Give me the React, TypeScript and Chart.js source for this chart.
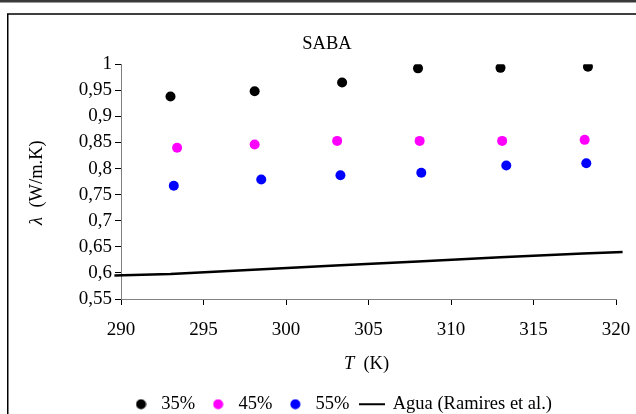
import React, { useEffect, useRef } from 'react';
import { Chart, registerables } from 'chart.js';

Chart.register(...registerables);

// ---- data ----
const seriesNames = ['35%', '45%', '55%', 'Agua (Ramires et al.)'];
const seriesColors = ['#000000', '#FF00FF', '#0000FF', '#000000'];

const temps35 = [293.0, 298.1, 303.4, 308.0, 313.0, 318.3];
const lambda35 = [0.938, 0.948, 0.965, 0.992, 0.993, 0.995];

const temps45 = [293.4, 298.1, 303.1, 308.1, 313.1, 318.1];
const lambda45 = [0.840, 0.846, 0.853, 0.853, 0.853, 0.855];

const temps55 = [293.2, 298.5, 303.3, 308.2, 313.35, 318.2];
const lambda55 = [0.767, 0.779, 0.787, 0.792, 0.806, 0.810];

const tempsAgua = [289.6, 293, 298, 303, 308, 313, 318, 320.4];
const lambdaAgua = [0.595, 0.598, 0.606, 0.614, 0.622, 0.630, 0.637, 0.640];

const xMin = 290;
const xMax = 320;
const xStep = 5;
const yMin = 0.55;
const yMax = 1;
const yStep = 0.05;

const chartTitle = 'SABA';
const xTitleItalic = 'T';
const xTitleRest = '  (K)';
const yTitleItalic = 'λ';
const yTitleRest = '  (W/m.K)';

const FONT = '"Liberation Serif", "Times New Roman", serif';

const toPoints = (xs: number[], ys: number[]) => xs.map((x, i) => ({ x, y: ys[i] }));

export default function App() {
  const ref = useRef<HTMLCanvasElement>(null);

  useEffect(() => {
    const canvas = ref.current;
    if (!canvas) return;

    const makeDot = (color: string) => {
      const c = document.createElement('canvas');
      c.width = 11;
      c.height = 11;
      const g = c.getContext('2d')!;
      g.fillStyle = color;
      g.beginPath();
      g.arc(5.5, 5.5, 5, 0, Math.PI * 2);
      g.fill();
      return c;
    };
    const makeLine = (color: string) => {
      const c = document.createElement('canvas');
      c.width = 26;
      c.height = 4;
      const g = c.getContext('2d')!;
      g.fillStyle = color;
      g.fillRect(0, 1, 26, 2);
      return c;
    };
    const legendImages = [
      makeDot(seriesColors[0]),
      makeDot(seriesColors[1]),
      makeDot(seriesColors[2]),
      makeLine(seriesColors[3]),
    ];

    const decor = {
      id: 'decor',
      beforeDraw(chart: any) {
        const { ctx, width, height } = chart;
        ctx.save();
        ctx.fillStyle = '#ffffff';
        ctx.fillRect(0, 0, width, height);
        ctx.fillStyle = '#3a3a3a';
        ctx.fillRect(0, 0, width, 2.5);
        ctx.strokeStyle = '#000000';
        ctx.lineWidth = 1.5;
        ctx.beginPath();
        ctx.moveTo(7.75, height);
        ctx.lineTo(7.75, 14);
        ctx.lineTo(width, 14);
        ctx.stroke();
        ctx.restore();
      },
      afterLayout(chart: any) {
        if (chart.titleBlock) {
          chart.titleBlock.left += 15;
          chart.titleBlock.right += 15;
        }
        if (chart.legend) {
          chart.legend.left += 29;
          chart.legend.right += 29;
        }
      },
      afterDraw(chart: any) {
        const { ctx, chartArea } = chart;
        ctx.save();
        ctx.fillStyle = '#000000';
        ctx.textBaseline = 'middle';
        ctx.textAlign = 'left';
        const fN = `18.5px ${FONT}`;
        const fI = `italic 18.5px ${FONT}`;
        // x title
        ctx.font = fI;
        const wT = ctx.measureText(xTitleItalic).width;
        ctx.font = fN;
        const wR = ctx.measureText(xTitleRest).width;
        const cx = (chartArea.left + chartArea.right) / 2 - 2;
        const x0 = cx - (wT + wR) / 2;
        const xy = 364;
        ctx.font = fI;
        ctx.fillText(xTitleItalic, x0, xy);
        ctx.font = fN;
        ctx.fillText(xTitleRest, x0 + wT, xy);
        // y title
        ctx.translate(37, (chartArea.top + chartArea.bottom) / 2 + 1);
        ctx.rotate(-Math.PI / 2);
        ctx.font = fI;
        const wL = ctx.measureText(yTitleItalic).width;
        ctx.font = fN;
        const wY = ctx.measureText(yTitleRest).width;
        const y0 = -(wL + wY) / 2;
        ctx.font = fI;
        ctx.fillText(yTitleItalic, y0, 0);
        ctx.font = fN;
        ctx.fillText(yTitleRest, y0 + wL, 0);
        ctx.restore();
      },
    };

    const chart = new Chart(canvas, {
      type: 'scatter',
      data: {
        datasets: [
          {
            label: seriesNames[0],
            data: toPoints(temps35, lambda35),
            backgroundColor: seriesColors[0],
            borderColor: seriesColors[0],
            pointRadius: 5,
            borderWidth: 0,
          },
          {
            label: seriesNames[1],
            data: toPoints(temps45, lambda45),
            backgroundColor: seriesColors[1],
            borderColor: seriesColors[1],
            pointRadius: 5,
            borderWidth: 0,
          },
          {
            label: seriesNames[2],
            data: toPoints(temps55, lambda55),
            backgroundColor: seriesColors[2],
            borderColor: seriesColors[2],
            pointRadius: 5,
            borderWidth: 0,
          },
          {
            type: 'line',
            label: seriesNames[3],
            data: toPoints(tempsAgua, lambdaAgua),
            borderColor: seriesColors[3],
            backgroundColor: seriesColors[3],
            borderWidth: 2.5,
            pointRadius: 0,
            showLine: true,
            fill: false,
            tension: 0,
            clip: false,
          } as any,
        ],
      },
      options: {
        animation: false,
        responsive: false,
        maintainAspectRatio: false,
        events: [],
        color: '#000000',
        font: { family: FONT, size: 18 },
        layout: { padding: { top: 14, left: 8, right: 20, bottom: -9.5 } },
        plugins: {
          title: {
            display: true,
            text: chartTitle,
            color: '#000000',
            font: { family: FONT, size: 18.5, weight: 'normal' },
            padding: { top: 19, bottom: 9 },
          },
          legend: {
            display: true,
            position: 'bottom',
            labels: {
              color: '#000000',
              font: { family: FONT, size: 18.5 },
              usePointStyle: true,
              pointStyleWidth: 22,
              padding: 12,
              generateLabels: () =>
                seriesNames.map((name, i) => ({
                  text: name,
                  datasetIndex: i,
                  hidden: false,
                  fillStyle: seriesColors[i],
                  strokeStyle: seriesColors[i],
                  lineWidth: 0,
                  pointStyle: legendImages[i] as any,
                  fontColor: '#000000',
                })),
            },
          },
          tooltip: { enabled: false },
        },
        scales: {
          x: {
            type: 'linear',
            min: xMin,
            max: xMax,
            ticks: {
              stepSize: xStep,
              color: '#000000',
              font: { family: FONT, size: 19 },
              padding: 14,
              maxRotation: 0,
              autoSkip: false,
            },
            grid: {
              display: true,
              drawOnChartArea: false,
              drawTicks: true,
              tickLength: 6,
              tickColor: '#000000',
              lineWidth: 1,
            },
            border: { display: true, color: '#808080', width: 1 },
            afterFit: (scale: any) => {
              scale.height = 84;
              scale.paddingLeft = 0;
              scale.paddingRight = 0;
            },
          },
          y: {
            type: 'linear',
            min: yMin,
            max: yMax,
            ticks: {
              stepSize: yStep,
              color: '#000000',
              font: { family: FONT, size: 19 },
              padding: 3,
              autoSkip: false,
              callback: (v: any) => String(Math.round(Number(v) * 100) / 100).replace('.', ','),
            },
            grid: {
              display: true,
              drawOnChartArea: false,
              drawTicks: true,
              tickLength: 6,
              tickColor: '#000000',
              lineWidth: 1,
            },
            border: { display: true, color: '#808080', width: 1 },
            afterFit: (scale: any) => {
              scale.width = 113;
              scale.paddingTop = 0;
              scale.paddingBottom = 0;
            },
          },
        },
      } as any,
      plugins: [decor],
    });

    return () => chart.destroy();
  }, []);

  return (
    <div style={{ position: 'fixed', left: 0, top: 0, width: 636, height: 414, background: '#fff' }}>
      <canvas ref={ref} width={636} height={414} style={{ display: 'block', width: 636, height: 414 }} />
    </div>
  );
}
